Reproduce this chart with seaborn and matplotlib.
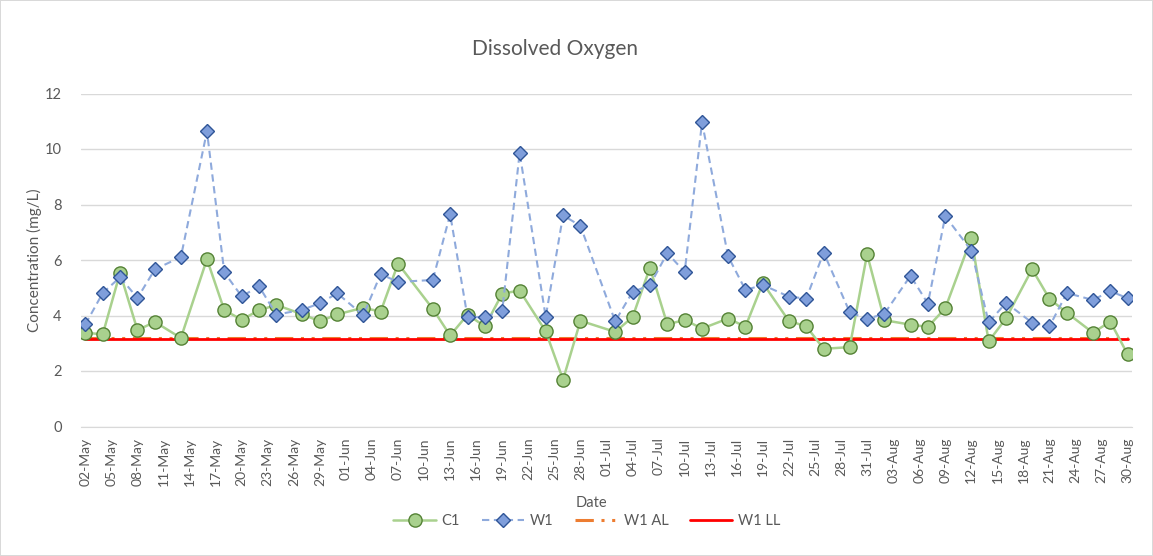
import matplotlib
matplotlib.use('Agg')
import matplotlib.pyplot as plt
import matplotlib.dates as mdates
import seaborn as sns
import pandas as pd

# Sampling days, as offsets from 02-May
day_offsets = [0, 2, 4, 6, 8, 11, 14, 16, 18, 20, 22, 25, 27, 29, 32, 34, 36, 40, 42, 44,
               46, 48, 50, 53, 55, 57, 61, 63, 65, 67, 69, 71, 74, 76, 78, 81, 83, 85, 88, 90,
               92, 95, 97, 99, 102, 104, 106, 109, 111, 113, 116, 118, 120]

c1 = [3.38, 3.32, 5.54, 3.47, 3.77, 3.19, 6.03, 4.19, 3.85, 4.19, 4.38, 4.04, 3.79, 4.04,
      4.28, 4.14, 5.87, 4.24, 3.28, 4.03, 3.61, 4.79, 4.90, 3.43, 1.69, 3.81, 3.41, 3.94,
      5.72, 3.68, 3.84, 3.53, 3.89, 3.60, 5.17, 3.80, 3.61, 2.80, 2.86, 6.21, 3.83, 3.67,
      3.59, 4.26, 6.79, 3.07, 3.90, 5.67, 4.60, 4.10, 3.38, 3.78, 2.60]

w1 = [3.68, 4.81, 5.38, 4.63, 5.66, 6.11, 10.64, 5.55, 4.69, 5.05, 4.03, 4.21, 4.44, 4.80,
      4.01, 5.49, 5.21, 5.28, 7.65, 3.94, 3.94, 4.18, 9.86, 3.95, 7.61, 7.23, 3.79, 4.85,
      5.09, 6.25, 5.57, 10.96, 6.13, 4.92, 5.10, 4.68, 4.61, 6.27, 4.12, 3.87, 4.07, 5.43,
      4.43, 7.58, 6.34, 3.75, 4.46, 3.74, 3.61, 4.81, 4.56, 4.88, 4.62]

w1_al = 3.20
w1_ll = 3.15

start = pd.Timestamp('2023-05-02')
dates = start + pd.to_timedelta(day_offsets, unit='D')
df = pd.DataFrame({'Date': dates, 'C1': c1, 'W1': w1})
lim_df = pd.DataFrame({'Date': [dates[0], dates[-1]],
                       'AL': [w1_al, w1_al], 'LL': [w1_ll, w1_ll]})

sns.set_style('white')
plt.rcParams['font.family'] = ['Lato', 'DejaVu Sans']
text_col = '#595959'

fig, ax = plt.subplots(figsize=(11.53, 5.56), dpi=100)
fig.subplots_adjust(left=81 / 1153, right=1132 / 1153, top=1 - 93.5 / 556, bottom=1 - 426.5 / 556)
fig.patch.set_edgecolor('#d9d9d9')
fig.patch.set_linewidth(1.2)

sns.lineplot(data=df, x='Date', y='C1', ax=ax, color='#a9d18e', lw=1.8, label='C1',
             marker='o', markersize=9.5, markerfacecolor='#a9d18e',
             markeredgecolor='#548235', markeredgewidth=1.0, zorder=3)
sns.lineplot(data=df, x='Date', y='W1', ax=ax, color='#8faadc', lw=1.5, linestyle=(0, (3.5, 2.2)),
             label='W1', marker='D', markersize=6.8, markerfacecolor='#7f9edb',
             markeredgecolor='#2f5597', markeredgewidth=1.0, zorder=4)
sns.lineplot(data=lim_df, x='Date', y='AL', ax=ax, color='#ed7d31', lw=2.2,
             linestyle=(0, (6, 2.5, 1, 2.5, 1, 2.5)), label='W1 AL', zorder=2)
sns.lineplot(data=lim_df, x='Date', y='LL', ax=ax, color='#ff0000', lw=2.0, label='W1 LL', zorder=2)

ax.set_ylim(0, 12)
ax.set_yticks(range(0, 13, 2))
ax.set_xlim(dates[0] - pd.Timedelta(hours=12), dates[-1] + pd.Timedelta(hours=12))
ax.set_xticks(pd.date_range(dates[0], dates[-1], freq='3D'))
ax.xaxis.set_major_formatter(mdates.DateFormatter('%d-%b'))
ax.tick_params(axis='x', labelrotation=90, labelsize=10, colors=text_col, length=0, pad=8)
ax.tick_params(axis='y', labelsize=10.5, colors=text_col, length=0, pad=14)

ax.grid(axis='y', color='#d9d9d9', lw=1)
ax.set_axisbelow(True)
for s in ['top', 'right', 'left']:
    ax.spines[s].set_visible(False)
ax.spines['bottom'].set_color('#d9d9d9')

fig.text(555 / 1153, 1 - 49 / 556, 'Dissolved Oxygen', fontsize=15, color=text_col,
         ha='center', va='center')
ax.set_ylabel('Concentration (mg/L)', fontsize=11, color=text_col, labelpad=2)
ax.set_xlabel('')
fig.text(591 / 1153, 1 - 503 / 556, 'Date', fontsize=10.5, color=text_col,
         ha='center', va='center')

ax.get_legend().remove()
handles, labels = ax.get_legend_handles_labels()
fig.legend(handles, labels, loc='center', ncol=4, bbox_to_anchor=(587 / 1153, 1 - 521 / 556),
           frameon=False, fontsize=10.5, labelcolor=text_col, handlelength=2.9,
           columnspacing=1.5, handletextpad=0.4)

fig.savefig('out.png', dpi=100, edgecolor=fig.get_edgecolor())
